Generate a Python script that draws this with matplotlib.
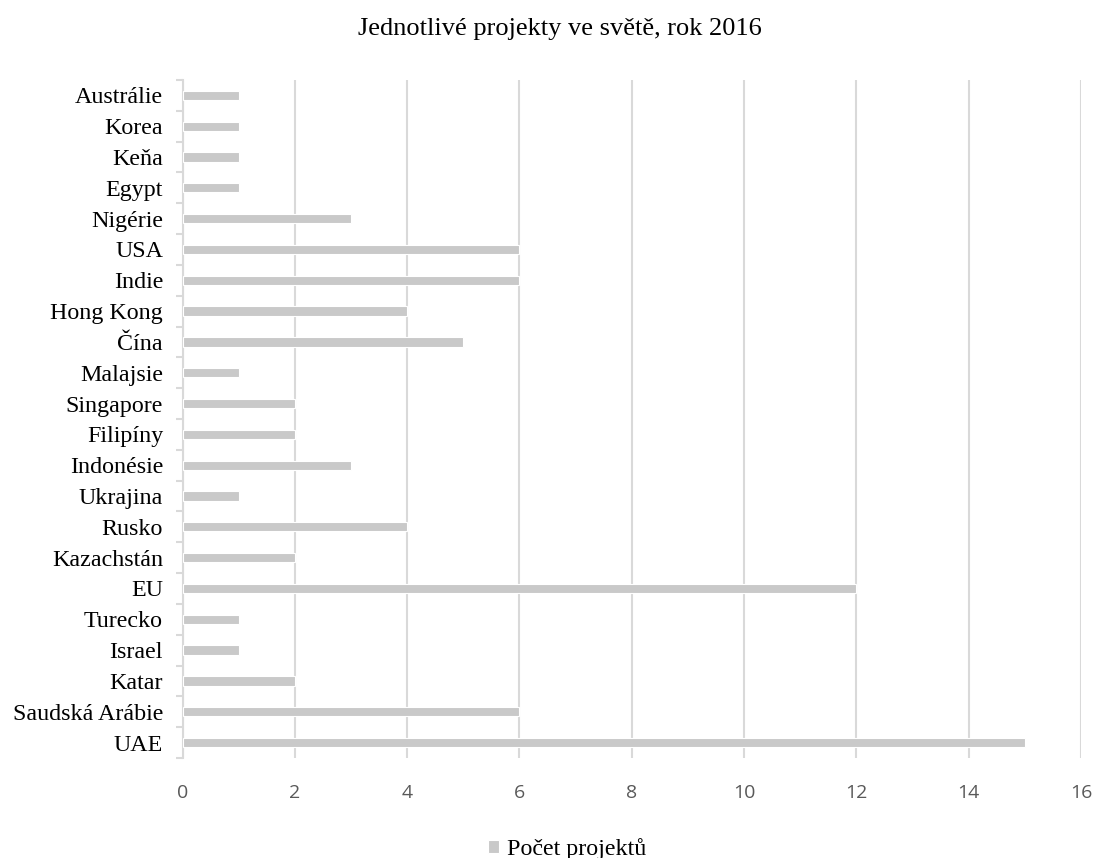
import matplotlib.pyplot as plt
import numpy as np

# zeme odspodu nahoru (poradi jako v grafu)
zeme = ['UAE', 'Saudská Arábie', 'Katar', 'Israel', 'Turecko', 'EU', 'Kazachstán',
        'Rusko', 'Ukrajina', 'Indonésie', 'Filipíny', 'Singapore', 'Malajsie', 'Čína',
        'Hong Kong', 'Indie', 'USA', 'Nigérie', 'Egypt', 'Keňa', 'Korea', 'Austrálie']
pocet = [15, 6, 2, 1, 1, 12, 2, 4, 1, 3, 2, 2, 1, 5, 4, 6, 6, 3, 1, 1, 1, 1]
xticks = [0, 2, 4, 6, 8, 10, 12, 14, 16]

serif = 'Liberation Serif'
sans = 'Open Sans'
seda = '#c9c9c9'
mrizka = '#d9d9d9'

fig = plt.figure(figsize=(10.93, 8.58), dpi=100)
ax = fig.add_axes([0.167, 0.1166, 0.822, 0.7902])

y = np.arange(len(zeme))
ax.barh(y, pocet, height=0.3, color=seda, edgecolor='white', linewidth=0.8,
        label='Počet projektů', zorder=3)

ax.set_xlim(0, 16)
ax.set_ylim(-0.5, len(zeme) - 0.5)
ax.set_xticks(xticks)
ax.set_xticklabels([str(t) for t in xticks], fontfamily=sans, fontsize=14, color='#595959')
ax.tick_params(axis='x', length=0, pad=19)
ax.xaxis.grid(True, color=mrizka, linewidth=1.5, zorder=0)

# popisky kategorii + carky mezi kategoriemi
ax.set_yticks(y)
ax.set_yticklabels(zeme, fontfamily=serif, fontsize=17.3, color='black')
ax.set_yticks(np.arange(len(zeme) + 1) - 0.5, minor=True)
ax.tick_params(axis='y', which='major', length=0, pad=14)
ax.tick_params(axis='y', which='minor', length=5, width=1.5, color=mrizka, direction='out')

for s in ['top', 'right', 'bottom']:
    ax.spines[s].set_visible(False)
ax.spines['left'].set_color(mrizka)
ax.spines['left'].set_linewidth(1.5)

fig.text(0.512, 0.959, 'Jednotlivé projekty ve světě, rok 2016', ha='center', va='baseline',
         fontfamily=serif, fontsize=19)

fig.legend(loc='center', bbox_to_anchor=(0.519, 0.0105), frameon=False,
           handlelength=0.45, handleheight=0.45, handletextpad=0.35, borderpad=0,
           prop={'family': serif, 'size': 17.3})

fig.savefig('out.png', dpi=100)
